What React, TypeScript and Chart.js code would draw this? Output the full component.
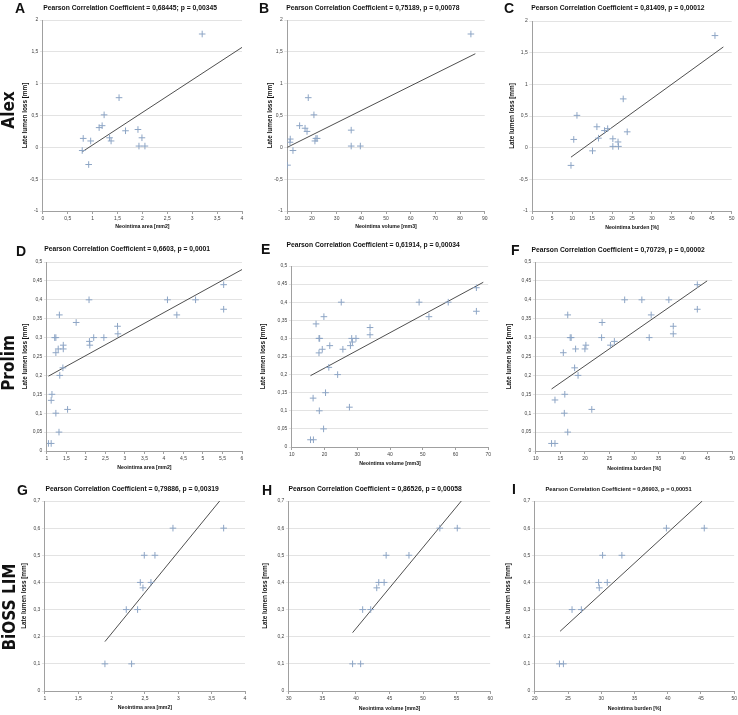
import { useEffect, useRef } from "react"
import { Chart, registerables } from "chart.js"

Chart.register(...registerables)

// ---- data ----
// Alex
const alexAreaX = [3.2, 0.81, 0.79, 0.92, 0.96, 1.13, 1.19, 1.23, 1.34, 1.37, 1.53, 1.66, 1.91, 1.99, 1.93, 2.05]
const alexAreaY = [1.78, 0.14, -0.05, -0.27, 0.1, 0.31, 0.34, 0.51, 0.15, 0.1, 0.78, 0.26, 0.28, 0.15, 0.02, 0.02]
const alexAreaFitX = [0.79, 4.0]
const alexAreaFitY = [-0.07, 1.57]

const alexVolX = [84.4, 10.1, 12.3, 11.2, 11.1, 15.0, 17.2, 18.0, 18.5, 20.8, 21.2, 21.6, 22.1, 35.9, 35.9, 39.6]
const alexVolY = [1.78, -0.28, -0.05, 0.13, 0.08, 0.34, 0.3, 0.25, 0.78, 0.51, 0.1, 0.14, 0.14, 0.27, 0.02, 0.02]
const alexVolFitX = [10, 86.2]
const alexVolFitY = [0, 1.47]

const alexBurdenX = [45.8, 9.7, 10.4, 11.2, 15.1, 16.2, 16.6, 18.1, 18.9, 20.2, 20.2, 21.5, 21.6, 22.8, 23.8]
const alexBurdenY = [1.77, -0.28, 0.13, 0.51, -0.05, 0.33, 0.15, 0.27, 0.3, 0.14, 0.02, 0.09, 0.02, 0.77, 0.25]
const alexBurdenFitX = [9.7, 47.9]
const alexBurdenFitY = [-0.15, 1.59]

// Prolim
const prolimAreaX = [1.04, 1.11, 1.13, 1.11, 1.23, 1.31, 1.33, 1.23, 1.2, 1.23, 1.29, 1.32, 1.41, 1.42, 1.42, 1.53, 1.75, 2.08, 2.09, 2.1, 2.2, 2.46, 2.81, 2.82, 4.09, 4.33, 4.81, 5.53, 5.53]
const prolimAreaY = [0.02, 0.02, 0.15, 0.134, 0.1, 0.05, 0.2, 0.26, 0.3, 0.3, 0.27, 0.36, 0.22, 0.27, 0.28, 0.11, 0.34, 0.4, 0.29, 0.28, 0.3, 0.3, 0.33, 0.31, 0.4, 0.36, 0.4, 0.44, 0.375]
const prolimAreaFitX = [1.04, 6.0]
const prolimAreaFitY = [0.198, 0.48]

const prolimVolX = [15.7, 16.6, 16.5, 17.4, 18.4, 18.3, 18.5, 18.3, 19.3, 19.8, 19.7, 20.3, 21.3, 21.6, 24.0, 25.1, 25.6, 27.6, 27.9, 28.3, 28.5, 29.6, 33.9, 33.9, 48.9, 51.9, 57.8, 66.4, 66.4]
const prolimVolY = [0.02, 0.02, 0.135, 0.34, 0.1, 0.3, 0.3, 0.26, 0.27, 0.36, 0.05, 0.15, 0.22, 0.28, 0.2, 0.4, 0.27, 0.11, 0.28, 0.3, 0.29, 0.3, 0.33, 0.31, 0.4, 0.36, 0.4, 0.44, 0.375]
const prolimVolFitX = [15.7, 68.5]
const prolimVolFitY = [0.197, 0.455]

const prolimBurdenX = [13.2, 13.9, 13.9, 15.8, 15.9, 15.6, 16.5, 16.5, 17.0, 17.2, 17.9, 18.1, 18.6, 20.0, 20.2, 21.4, 23.4, 23.5, 25.2, 26.0, 28.1, 31.6, 33.1, 33.5, 37.1, 38.0, 38.0, 42.9, 42.9]
const prolimBurdenY = [0.02, 0.02, 0.135, 0.1, 0.15, 0.26, 0.05, 0.36, 0.3, 0.3, 0.22, 0.27, 0.2, 0.27, 0.28, 0.11, 0.3, 0.34, 0.28, 0.29, 0.4, 0.4, 0.3, 0.36, 0.4, 0.33, 0.31, 0.44, 0.375]
const prolimBurdenFitX = [13.2, 44.9]
const prolimBurdenFitY = [0.164, 0.45]

// BiOSS LIM
const biossAreaX = [1.9, 2.3, 2.22, 2.39, 2.43, 2.47, 2.59, 2.49, 2.65, 2.92, 3.68]
const biossAreaY = [0.1, 0.1, 0.3, 0.3, 0.4, 0.38, 0.4, 0.5, 0.5, 0.6, 0.6]
const biossAreaFitX = [1.9, 3.62]
const biossAreaFitY = [0.182, 0.7]

const biossVolX = [39.5, 40.7, 41.0, 42.2, 43.1, 43.4, 44.2, 44.5, 47.9, 52.5, 55.1]
const biossVolY = [0.1, 0.1, 0.3, 0.3, 0.38, 0.4, 0.4, 0.5, 0.5, 0.6, 0.6]
const biossVolFitX = [39.5, 55.7]
const biossVolFitY = [0.215, 0.7]

const biossBurdenX = [23.7, 24.3, 25.6, 27.0, 29.6, 29.7, 30.9, 30.2, 33.1, 39.8, 45.5]
const biossBurdenY = [0.1, 0.1, 0.3, 0.3, 0.4, 0.38, 0.4, 0.5, 0.5, 0.6, 0.6]
const biossBurdenFitX = [23.8, 45.2]
const biossBurdenFitY = [0.22, 0.7]

const rowLabels = ["Alex", "Prolim", "BiOSS LIM"]
const yLabel = "Late lumen loss [mm]"

// ---- layout ----
const FONT = "'Liberation Sans', Arial, Helvetica, sans-serif"
const TITLE_SIZE = 6.75
const X_TITLE_SIZE = 5.2
const Y_TITLE_SIZE = 6.4
const TICK_SIZE = 5
const X_TICK_PAD = 2
const MARK = "#8da5c5"

type Panel = {
  letter: string
  title: string
  titleSize?: number
  xLabel: string
  xs: number[]
  ys: number[]
  fitX: number[]
  fitY: number[]
  x: [number, number, number]
  y: [number, number, number]
  plot: [number, number, number, number] // left right top bottom
  titleAt: [number, number]
  yTitleX: number
  xTitleY: number
  top: number
  bottom: number
  letterAt: [number, number]
}

const panels: Panel[] = [
  {
    letter: "A", title: "Pearson Correlation Coefficient = 0,68445; p = 0,00345", xLabel: "Neointima area [mm2]",
    xs: alexAreaX, ys: alexAreaY, fitX: alexAreaFitX, fitY: alexAreaFitY,
    x: [0, 4, 0.5], y: [-1, 2, 0.5],
    plot: [43, 243, 20, 211], titleAt: [132, 8], yTitleX: 25, xTitleY: 227, top: 0, bottom: 232, letterAt: [15, 3],
  },
  {
    letter: "B", title: "Pearson Correlation Coefficient = 0,75189, p = 0,00078", xLabel: "Neointima volume [mm3]",
    xs: alexVolX, ys: alexVolY, fitX: alexVolFitX, fitY: alexVolFitY,
    x: [10, 90, 10], y: [-1, 2, 0.5],
    plot: [287, 484, 20, 211], titleAt: [375, 8], yTitleX: 270, xTitleY: 227, top: 0, bottom: 232, letterAt: [259, 3],
  },
  {
    letter: "C", title: "Pearson Correlation Coefficient = 0,81409, p = 0,00012", xLabel: "Neointima burden [%]",
    xs: alexBurdenX, ys: alexBurdenY, fitX: alexBurdenFitX, fitY: alexBurdenFitY,
    x: [0, 50, 5], y: [-1, 2, 0.5],
    plot: [532, 731, 21, 211], titleAt: [620, 8], yTitleX: 512, xTitleY: 228, top: 0, bottom: 233, letterAt: [504, 3],
  },
  {
    letter: "D", title: "Pearson Correlation Coefficient = 0,6603, p = 0,0001", xLabel: "Neointima area [mm2]",
    xs: prolimAreaX, ys: prolimAreaY, fitX: prolimAreaFitX, fitY: prolimAreaFitY,
    x: [1, 6, 0.5], y: [0, 0.5, 0.05],
    plot: [47, 243, 262, 451], titleAt: [129, 249], yTitleX: 25, xTitleY: 468, top: 238, bottom: 474, letterAt: [16, 246],
  },
  {
    letter: "E", title: "Pearson Correlation Coefficient = 0,61914, p = 0,00034", xLabel: "Neointima volume [mm3]",
    xs: prolimVolX, ys: prolimVolY, fitX: prolimVolFitX, fitY: prolimVolFitY,
    x: [10, 70, 10], y: [0, 0.5, 0.05],
    plot: [292, 488, 266, 447], titleAt: [379, 245], yTitleX: 263, xTitleY: 464, top: 236, bottom: 470, letterAt: [261, 244],
  },
  {
    letter: "F", title: "Pearson Correlation Coefficient = 0,70729, p = 0,00002", xLabel: "Neointima burden [%]",
    xs: prolimBurdenX, ys: prolimBurdenY, fitX: prolimBurdenFitX, fitY: prolimBurdenFitY,
    x: [10, 50, 5], y: [0, 0.5, 0.05],
    plot: [536, 732, 262, 451], titleAt: [623, 250], yTitleX: 509, xTitleY: 469, top: 238, bottom: 474, letterAt: [511, 245],
  },
  {
    letter: "G", title: "Pearson Correlation Coefficient = 0,79886, p = 0,00319", xLabel: "Neointima area [mm2]",
    xs: biossAreaX, ys: biossAreaY, fitX: biossAreaFitX, fitY: biossAreaFitY,
    x: [1, 4, 0.5], y: [0, 0.7, 0.1],
    plot: [45, 246, 501, 691], titleAt: [134, 489], yTitleX: 24, xTitleY: 708, top: 478, bottom: 714, letterAt: [17, 485],
  },
  {
    letter: "H", title: "Pearson Correlation Coefficient = 0,86526, p = 0,00058", xLabel: "Neointima volume [mm3]",
    xs: biossVolX, ys: biossVolY, fitX: biossVolFitX, fitY: biossVolFitY,
    x: [30, 60, 5], y: [0, 0.7, 0.1],
    plot: [289, 490, 501, 691], titleAt: [379, 489], yTitleX: 265, xTitleY: 709, top: 478, bottom: 714, letterAt: [262, 485],
  },
  {
    letter: "I", title: "Pearson Correlation Coefficient = 0,86903, p = 0,00051", titleSize: 5.7, xLabel: "Neointima burden [%]",
    xs: biossBurdenX, ys: biossBurdenY, fitX: biossBurdenFitX, fitY: biossBurdenFitY,
    x: [20, 50, 5], y: [0, 0.7, 0.1],
    plot: [535, 734, 501, 691], titleAt: [623, 489], yTitleX: 508, xTitleY: 709, top: 478, bottom: 714, letterAt: [512, 484],
  },
]

const rowLabelAt: [number, number][] = [[8, 110], [8, 363], [9, 607]]

const fmt = (v: number | string) => String(Math.round(Number(v) * 1000) / 1000).replace(".", ",")

// room the last x tick label needs past the plot's right edge
function labelOverflow(v: number) {
  const ctx = document.createElement("canvas").getContext("2d")
  if (!ctx) return 5
  ctx.font = `${TICK_SIZE}px ${FONT}`
  return ctx.measureText(fmt(v)).width / 2 + X_TICK_PAD + 0.5
}

function geometry(p: Panel) {
  const [pl, pr] = p.plot
  const yLh = Y_TITLE_SIZE * 1.2
  const over = labelOverflow(p.x[1])
  const left = Math.min(p.yTitleX - yLh / 2 - 1, 2 * p.titleAt[0] - pr - over)
  const right = 2 * p.titleAt[0] - left
  return { left, right, yAxisWidth: pl - left, padRight: right - pr }
}

function ScatterPanel({ p }: { p: Panel }) {
  const ref = useRef<HTMLCanvasElement>(null)
  const g = geometry(p)
  const W = g.right - g.left
  const H = p.bottom - p.top
  const [, , pt, pb] = p.plot

  useEffect(() => {
    if (!ref.current) return
    const tSize = p.titleSize ?? TITLE_SIZE
    const tLh = tSize * 1.2
    const xLh = X_TITLE_SIZE * 1.2
    const yLh = Y_TITLE_SIZE * 1.2
    const titleTop = p.titleAt[1] - tLh / 2 - p.top
    const titleBottom = pt - p.top - titleTop - tLh
    const chart = new Chart(ref.current, {
      type: "scatter",
      data: {
        datasets: [
          {
            data: p.xs.map((x, i) => ({ x, y: p.ys[i] })),
            pointStyle: "cross",
            pointRadius: 3.3,
            borderColor: MARK,
            backgroundColor: MARK,
            borderWidth: 1,
          },
          {
            data: p.fitX.map((x, i) => ({ x, y: p.fitY[i] })),
            showLine: true,
            pointRadius: 0,
            borderColor: "#222",
            borderWidth: 0.8,
          },
        ],
      },
      options: {
        responsive: false,
        animation: false,
        events: [],
        layout: { padding: { left: 0, right: g.padRight, top: 0, bottom: 0 } },
        plugins: {
          legend: { display: false },
          tooltip: { enabled: false },
          title: {
            display: true,
            text: p.title,
            color: "#111",
            font: { family: FONT, size: tSize, weight: "bold", lineHeight: 1.2 },
            padding: { top: titleTop, bottom: titleBottom },
          },
        },
        scales: {
          x: {
            type: "linear",
            min: p.x[0],
            max: p.x[1],
            afterFit: (s: any) => { s.height = p.bottom - pb },
            ticks: { stepSize: p.x[2], callback: fmt, color: "#444", font: { family: FONT, size: TICK_SIZE }, padding: X_TICK_PAD, maxRotation: 0, autoSkip: false },
            grid: { drawOnChartArea: false, tickLength: 3, color: "#a0a0a0" },
            border: { color: "#a0a0a0" },
            title: {
              display: true,
              text: p.xLabel,
              color: "#111",
              font: { family: FONT, size: X_TITLE_SIZE, weight: "bold", lineHeight: 1.2 },
              padding: { top: 0, bottom: p.bottom - p.xTitleY - xLh / 2 },
            },
          },
          y: {
            type: "linear",
            min: p.y[0],
            max: p.y[1],
            afterFit: (s: any) => { s.width = g.yAxisWidth },
            ticks: { stepSize: p.y[2], callback: fmt, color: "#444", font: { family: FONT, size: TICK_SIZE }, padding: 1.5, autoSkip: false },
            grid: { color: "#e3e3e3", tickLength: 3 },
            border: { color: "#a0a0a0" },
            title: {
              display: true,
              text: yLabel,
              color: "#111",
              font: { family: FONT, size: Y_TITLE_SIZE, weight: "bold", lineHeight: 1.2 },
              padding: { top: p.yTitleX - g.left - yLh / 2, bottom: 0 },
            },
          },
        },
      } as any,
    })
    return () => chart.destroy()
  }, [p])

  return (
    <canvas
      ref={ref}
      width={Math.round(W)}
      height={H}
      style={{ position: "absolute", left: g.left, top: p.top, width: Math.round(W), height: H }}
    />
  )
}

export default function App() {
  return (
    <div style={{ position: "absolute", left: 0, top: 0, width: 738, height: 715, background: "#fff", overflow: "hidden" }}>
      {panels.map((p) => (
        <ScatterPanel key={p.letter} p={p} />
      ))}
      {panels.map((p) => (
        <div
          key={"l" + p.letter}
          style={{
            position: "absolute",
            left: p.letterAt[0],
            top: p.letterAt[1] - 2,
            fontFamily: FONT,
            fontWeight: "bold",
            fontSize: 14,
            lineHeight: "14px",
            color: "#111",
          }}
        >
          {p.letter}
        </div>
      ))}
      {rowLabels.map((t, i) => (
        <div
          key={t}
          style={{
            position: "absolute",
            left: rowLabelAt[i][0],
            top: rowLabelAt[i][1],
            transform: "translate(-50%, -50%) rotate(-90deg)",
            whiteSpace: "nowrap",
            fontFamily: "'Liberation Sans Narrow', 'DejaVu Sans Condensed', 'Liberation Sans', sans-serif",
            fontWeight: "bold",
            fontSize: 17,
            lineHeight: "17px",
            color: "#111",
          }}
        >
          {t}
        </div>
      ))}
    </div>
  )
}
